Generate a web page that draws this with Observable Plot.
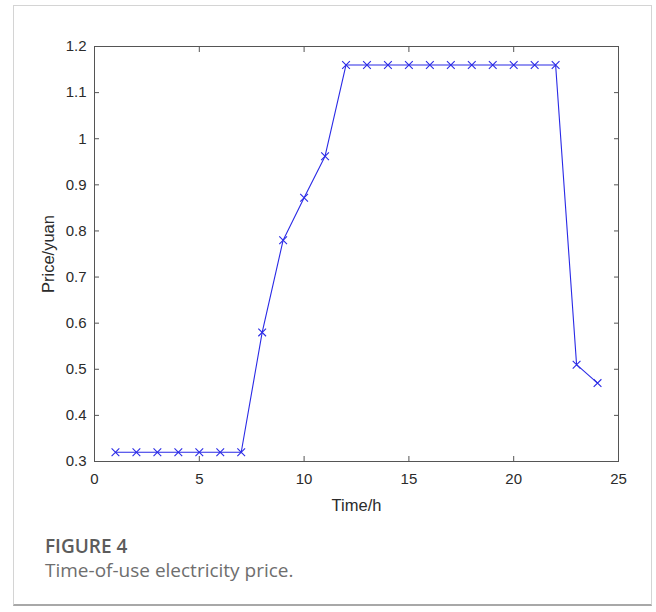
<!DOCTYPE html>
<html>
<head>
<meta charset="utf-8">
<script src="https://cdn.jsdelivr.net/npm/d3@7"></script>
<script src="https://cdn.jsdelivr.net/npm/@observablehq/plot@0.6"></script>
<style>
  html, body { margin: 0; padding: 0; background: #fff; }
  body { width: 656px; height: 612px; position: relative; overflow: hidden; }
  #box { position: absolute; left: 13px; top: 5px; width: 639px; height: 601px;
         border: 1px solid #d4d4d4; border-bottom: 2px solid #a8a8a8; box-sizing: border-box; }
  #chart { position: absolute; left: 0; top: 0; }
  #cap1 { position: absolute; left: 45px; top: 536px; font-family: "Open Sans", sans-serif;
          font-weight: 600; font-size: 19px; color: #5c5c5c; margin: 0; line-height: 21px; }
  #cap2 { position: absolute; left: 45px; top: 560px; font-family: "Open Sans", sans-serif;
          font-weight: 400; font-size: 19px; color: #6e6e6e; margin: 0; line-height: 21px; }
</style>
</head>
<body>
<div id="box"></div>
<div id="chart"></div>
<div id="cap1">FIGURE 4</div>
<div id="cap2">Time-of-use electricity price.</div>
<script>
const hours = [1,2,3,4,5,6,7,8,9,10,11,12,13,14,15,16,17,18,19,20,21,22,23,24];
const prices = [0.32,0.32,0.32,0.32,0.32,0.32,0.32,0.58,0.78,0.872,0.962,1.16,1.16,1.16,1.16,1.16,1.16,1.16,1.16,1.16,1.16,1.16,0.51,0.47];
const xTicks = [0,5,10,15,20,25];
const yTicks = [0.3,0.4,0.5,0.6,0.7,0.8,0.9,1.0,1.1,1.2];
const xLabel = "Time/h";
const yLabel = "Price/yuan";

const data = hours.map((h, i) => ({h, p: prices[i]}));
const fmt = d => String(+d.toFixed(1));
const axisColor = "#555";
const textColor = "#2b2b2b";
const font = "'Liberation Sans', Arial, sans-serif";

const chart = Plot.plot({
  width: 656,
  height: 530,
  marginLeft: 94,
  marginRight: 38,
  marginTop: 46,
  marginBottom: 69,
  style: { fontFamily: font, fontSize: "15px", color: textColor, background: "transparent" },
  x: { domain: [0, 25] },
  y: { domain: [0.3, 1.2] },
  marks: [
    Plot.frame({ stroke: axisColor, strokeWidth: 1 }),
    Plot.axisX(xTicks, { anchor: "bottom", tickSize: -5, tickPadding: 17, stroke: axisColor, tickFormat: fmt,
      fontSize: 15, fontFamily: font, fill: textColor, label: null }),
    Plot.axisX({ anchor: "bottom", ticks: [], label: xLabel, labelAnchor: "center", labelArrow: "none",
      labelOffset: 49, fontSize: 16.5, fontFamily: font, fill: textColor }),
    Plot.axisX(xTicks, { anchor: "top", tickSize: -5, stroke: axisColor, tickFormat: () => "", label: null }),
    Plot.axisY(yTicks, { anchor: "left", tickSize: -5, tickPadding: 13, stroke: axisColor, tickFormat: fmt,
      fontSize: 15, fontFamily: font, fill: textColor, label: null }),
    Plot.axisY({ anchor: "left", ticks: [], label: yLabel, labelAnchor: "center", labelArrow: "none",
      labelOffset: 52, fontSize: 16.5, fontFamily: font, fill: textColor }),
    Plot.axisY(yTicks, { anchor: "right", tickSize: -5, stroke: axisColor, tickFormat: () => "", label: null }),
    Plot.line(data, { x: "h", y: "p", stroke: "#2a2ae6", strokeWidth: 1.1 }),
    Plot.dot(data, { x: "h", y: "p", symbol: "times", r: 3.6, stroke: "#2a2ae6", strokeWidth: 1.1 })
  ]
});
document.getElementById("chart").appendChild(chart);
</script>
</body>
</html>
